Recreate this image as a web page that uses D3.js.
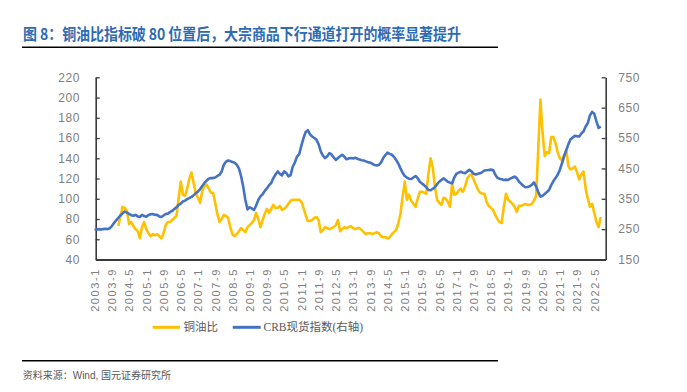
<!DOCTYPE html>
<html><head><meta charset="utf-8">
<script src="https://cdn.jsdelivr.net/npm/d3@7"></script>
<style>
html,body{margin:0;padding:0;background:#fff;}
svg{display:block;}
</style></head>
<body>
<svg id="chart" width="687" height="392"></svg>
<script>
// ---------- DATA ----------
const startYear = 2003, startMonth = 1, monthCount = 236; // 2003-1 ... 2022-8
const tickLabels = ["2003-1","2003-9","2004-5","2005-1","2005-9","2006-5","2007-1","2007-9","2008-5","2009-1",
  "2009-9","2010-5","2011-1","2011-9","2012-5","2013-1","2013-9","2014-5","2015-1","2015-9",
  "2016-5","2017-1","2017-9","2018-5","2019-1","2019-9","2020-5","2021-1","2021-9","2022-5"];
const leftTicks = [40,60,80,100,120,140,160,180,200,220];
const rightTicks = [150,250,350,450,550,650,750];
const seriesNames = ["铜油比","CRB现货指数(右轴)"];

// CRB spot index (right axis), monthly from 2003-1
const crb = [
  248,249,250,249,250,251,250,253,260,270,279,287,
  295,302,308,304,300,296,294,297,292,290,297,293,
  291,296,299,300,297,297,292,290,295,300,301,306,
  310,316,322,330,334,341,344,349,352,356,362,368,
  374,382,392,402,410,416,418,418,420,425,429,440,
  462,472,476,474,471,469,462,450,425,390,346,315,
  322,318,313,328,346,358,365,376,384,395,402,418,
  430,440,432,427,440,435,424,428,456,470,489,497,
  525,550,570,576,562,555,550,544,530,506,492,484,
  490,500,496,486,478,484,490,495,488,480,483,484,
  483,485,482,479,477,476,473,470,469,465,461,460,
  461,470,484,494,502,498,495,488,478,466,450,436,
  425,420,416,415,420,425,418,406,400,395,388,379,
  378,383,388,398,406,412,417,412,406,403,401,420,
  432,436,439,436,434,440,445,440,432,430,432,434,
  438,443,444,445,446,445,430,419,416,414,412,413,
  412,416,420,423,418,407,400,393,388,389,391,396,
  404,390,372,357,360,366,372,379,395,408,418,429,
  445,467,490,511,530,546,552,557,556,555,565,572,
  588,600,625,636,630,605,583,588
];
// Copper / oil ratio (left axis), monthly from 2003-1 (null = no data)
const copperOil = [
  null,null,null,null,null,null,null,null,null,null,null,73,
  83,92,91,88,75,77,73,70,68,61,72,77,
  70,66,63,65,64,65,63,61,66,74,77,77,
  79,81,83,100,117,104,103,110,120,126,115,105,
  101,96,108,113,114,110,106,106,96,85,77,80,
  84,83,81,72,65,63,65,68,71,69,67,72,
  74,76,79,86,80,72,79,85,90,86,90,94,
  91,91,93,89,90,92,95,98,99,99,99,99,
  97,91,84,78,78,79,81,82,79,67,69,72,
  71,70,71,72,74,79,68,70,72,71,72,73,
  71,70,71,71,69,67,65,66,66,65,66,67,
  66,63,62,62,61,62,65,67,69,76,85,102,
  117,99,104,98,95,92,100,107,107,106,105,125,
  140,131,112,99,96,94,101,100,97,92,115,104,
  105,108,110,107,112,120,123,124,119,114,109,106,
  105,105,97,93,91,89,84,80,77,76,92,105,
  99,97,95,92,87,93,93,94,95,94,94,95,
  98,103,150,198,165,142,146,145,161,161,155,146,
  140,138,143,148,132,129,130,132,126,119,124,127,
  110,100,92,95,86,77,72,82
];

// month labels
const months = d3.range(monthCount).map(i => {
  const t = startMonth - 1 + i;
  return (startYear + Math.floor(t / 12)) + "-" + (t % 12 + 1);
});

// ---------- LAYOUT ----------
const svg = d3.select("#chart");
const plot = {left: 95.7, right: 605.7, top: 77.3, bottom: 259.5};
const C_Y = "#FFC000", C_B = "#4472C4", AX = "#3a3a3a", LBL = "#808080";

const x = d3.scaleLinear().domain([0.51, 237.3]).range([plot.left, plot.right]);
const yL = d3.scaleLinear().domain([40, 220]).range([plot.bottom, plot.top]);
const yR = d3.scaleLinear().domain([150, 750]).range([plot.bottom, plot.top]);

// Title
svg.append("text")
  .attr("transform", "translate(23,39.8) scale(1,1.12)")
  .attr("textLength", 438).attr("lengthAdjust", "spacing")
  .attr("font-family", "'Noto Sans CJK SC', sans-serif")
  .attr("font-weight", "bold").attr("font-size", 14)
  .attr("fill", "#2d6bb4")
  .text("图 8：铜油比指标破 80 位置后，大宗商品下行通道打开的概率显著提升");
svg.append("line").attr("x1", 22).attr("x2", 498).attr("y1", 47.3).attr("y2", 47.3)
  .attr("stroke", "#000").attr("stroke-width", 1.4);

// Axes
const gL = svg.append("g").attr("transform", `translate(${plot.left},0)`)
  .call(d3.axisLeft(yL).tickValues(leftTicks).tickSizeInner(-4).tickSizeOuter(0).tickPadding(15.7));
const gR = svg.append("g").attr("transform", `translate(${plot.right},0)`)
  .call(d3.axisRight(yR).tickValues(rightTicks).tickSizeInner(-4).tickSizeOuter(0).tickPadding(12.6));
[gL, gR].forEach(g => {
  g.select(".domain").attr("stroke", AX).attr("stroke-width", 1.6);
  g.selectAll(".tick line").attr("stroke", AX).attr("stroke-width", 1.3);
  g.selectAll(".tick text").attr("fill", LBL).attr("font-size", 12)
    .attr("font-family", "'Liberation Sans', Arial, sans-serif").attr("letter-spacing", 0.6);
});

const tickIdx = tickLabels.map(l => months.indexOf(l));
const gB = svg.append("g").attr("transform", `translate(0,${plot.bottom})`)
  .call(d3.axisBottom(x).tickValues(tickIdx).tickSize(0).tickFormat(i => months[i]));
gB.select(".domain").attr("stroke", AX).attr("stroke-width", 1.8);
gB.selectAll(".tick text")
  .attr("transform", "rotate(-90)").attr("text-anchor", "end")
  .attr("x", -8.5).attr("y", 0).attr("dy", "0.35em")
  .attr("fill", LBL).attr("font-size", 11).attr("letter-spacing", 1.6)
  .attr("font-family", "'Liberation Sans', Arial, sans-serif");

// Lines
const idx = d3.range(monthCount);
const lineL = d3.line().defined(i => copperOil[i] != null).x(i => x(i)).y(i => yL(copperOil[i]));
const lineR = d3.line().defined(i => crb[i] != null).x(i => x(i)).y(i => yR(crb[i]));
svg.append("path").attr("d", lineL(idx.filter(i => i < copperOil.length)))
  .attr("fill", "none").attr("stroke", C_Y).attr("stroke-width", 2.6).attr("stroke-linejoin", "round");
svg.append("path").attr("d", lineR(idx.filter(i => i < crb.length)))
  .attr("fill", "none").attr("stroke", C_B).attr("stroke-width", 2.6).attr("stroke-linejoin", "round");

// Legend
const legend = [
  {name: seriesNames[0], color: C_Y, x1: 152.7, x2: 180, tx: 183.5},
  {name: seriesNames[1], color: C_B, x1: 232.7, x2: 260.7, tx: 263.5}
];
const gLeg = svg.append("g");
legend.forEach(d => {
  gLeg.append("line").attr("x1", d.x1).attr("x2", d.x2).attr("y1", 327.3).attr("y2", 327.3)
    .attr("stroke", d.color).attr("stroke-width", 3);
  gLeg.append("text").attr("x", d.tx).attr("y", 327.3).attr("dy", "0.36em")
    .attr("font-size", 11.5).attr("fill", "#595959")
    .attr("font-family", "'Liberation Serif', 'Noto Sans CJK SC', serif")
    .text(d.name);
});

// Footer
svg.append("line").attr("x1", 22).attr("x2", 498).attr("y1", 360.7).attr("y2", 360.7)
  .attr("stroke", "#000").attr("stroke-width", 1.4);
svg.append("text").attr("x", 22.7).attr("y", 375).attr("dy", "0.36em")
  .attr("font-size", 10).attr("fill", "#595959")
  .attr("font-family", "'Liberation Sans', 'Noto Sans CJK SC', sans-serif")
  .text("资料来源：Wind, 国元证券研究所");
</script>
</body></html>
